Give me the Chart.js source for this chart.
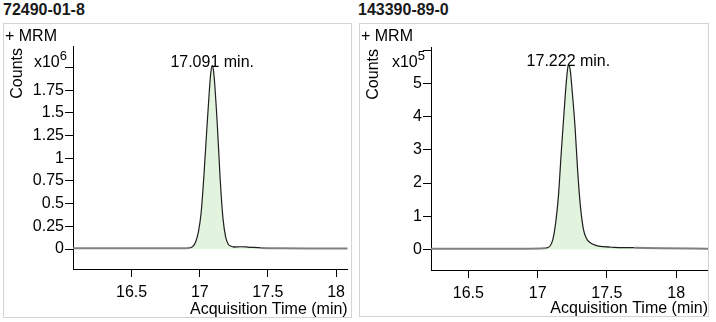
<!DOCTYPE html>
<html>
<head>
<meta charset="utf-8">
<script src="https://cdn.jsdelivr.net/npm/chart.js@4.4.0/dist/chart.umd.min.js"></script>
<style>
body { margin:0; background:#fff; font-family:"Liberation Sans", Arial, sans-serif; width:716px; height:322px; position:relative; overflow:hidden; }
.ttl { position:absolute; top:1px; font-weight:bold; font-size:16px; color:#1a1a1a; }
.box { position:absolute; top:23px; border:1px solid #d4d4d4; }
.mrm { position:absolute; left:1px; top:3px; font-size:16px; color:#000; }
canvas { position:absolute; left:0; top:0; }
</style>
</head>
<body>
<div class="ttl" style="left:3px">72490-01-8</div>
<div class="ttl" style="left:358px">143390-89-0</div>
<div class="box" style="left:3px;width:347px;height:293px">
  <canvas id="left-chart" width="347" height="293"></canvas>
  <div class="mrm">+ MRM</div>
</div>
<div class="box" style="left:359px;width:348px;height:292px">
  <canvas id="right-chart" width="348" height="292"></canvas>
  <div class="mrm">+ MRM</div>
</div>
<script>
// 72490-01-8  (counts x10^6)
var times1  = [16.07, 16.4, 16.7, 16.9, 16.93, 16.95, 16.97, 16.99, 17.01, 17.03, 17.05, 17.07, 17.08, 17.091, 17.10, 17.11, 17.13, 17.15, 17.17, 17.19, 17.21, 17.23, 17.25, 17.30, 17.35, 17.45, 17.6, 17.8, 18.085];
var counts1 = [0.008, 0.008, 0.008, 0.009, 0.015, 0.03, 0.08, 0.19, 0.40, 0.80, 1.28, 1.74, 1.93, 2.02, 1.97, 1.81, 1.33, 0.76, 0.34, 0.13, 0.05, 0.03, 0.022, 0.025, 0.022, 0.012, 0.008, 0.007, 0.007];
var base1t = [16.93, 17.26];
var base1c = [0.010, 0.022];
var yTicks1  = [0, 0.25, 0.5, 0.75, 1, 1.25, 1.5, 1.75, 2];
var yLabels1 = ['0', '0.25', '0.5', '0.75', '1', '1.25', '1.5', '1.75', ''];

// 143390-89-0  (counts x10^5)
var times2  = [16.23, 16.6, 16.9, 17.02, 17.06, 17.09, 17.11, 17.13, 17.15, 17.17, 17.19, 17.21, 17.222, 17.235, 17.25, 17.27, 17.29, 17.31, 17.33, 17.35, 17.38, 17.42, 17.47, 17.55, 17.7, 17.9, 18.23];
var counts2 = [0.02, 0.02, 0.02, 0.025, 0.04, 0.1, 0.3, 0.8, 1.6, 2.9, 4.1, 5.2, 5.57, 5.42, 4.75, 3.7, 2.3, 1.25, 0.62, 0.35, 0.2, 0.12, 0.08, 0.06, 0.05, 0.03, 0.02];
var base2t = [17.07, 17.52];
var base2c = [0.03, 0.065];
var yTicks2  = [0, 1, 2, 3, 4, 5, 6];
var yLabels2 = ['0', '1', '2', '3', '4', '5', ''];

var xTicks  = [16.5, 17, 17.5, 18];
var xLabels = ['16.5', '17', '17.5', '18'];

var FONT = '"Liberation Sans", Arial, sans-serif';
Chart.defaults.color = '#000';
Chart.defaults.font.family = FONT;

function pts(t, c) {
    return t.map(function(v, i) { return {x: v, y: c[i]}; });
}

var extras = {
    id: 'extras',
    afterDraw: function(chart, args, o) {
        var ctx = chart.ctx, xs = chart.scales.x, ys = chart.scales.y;
        ctx.save();
        ctx.fillStyle = '#000';
        // peak label
        ctx.font = '16px ' + FONT;
        ctx.textAlign = 'center';
        ctx.textBaseline = 'alphabetic';
        ctx.fillText(o.peakText, xs.getPixelForValue(o.peakTime), ys.getPixelForValue(o.peakCount) + 1);
        // multiplier x10^n
        var ax = chart.chartArea.left;
        ctx.textAlign = 'right';
        ctx.font = '13px ' + FONT;
        ctx.fillText(o.exp, ax - 6, 35.5);
        var w = ctx.measureText(o.exp).width;
        ctx.font = '16px ' + FONT;
        ctx.fillText('x10', ax - 6 - w, 43);
        // Counts
        ctx.translate(13.5, chart.chartArea.top + 2);
        ctx.rotate(-Math.PI / 2);
        ctx.textAlign = 'right';
        ctx.textBaseline = 'middle';
        ctx.fillText('Counts', 0, 0);
        ctx.restore();
    }
};

function makeChart(id, t, c, bt, bc, cfg) {
    var ctx = document.getElementById(id);
    return new Chart(ctx, {
        type: 'line',
        data: {
            datasets: [{
                data: pts(t, c),
                borderWidth: 1.3,
                borderColor: '#222',
                backgroundColor: '#e2f4de',
                fill: 'origin',
                pointRadius: 0,
                cubicInterpolationMode: 'monotone',
                segment: {
                    borderColor: function(s) { return (s.p0.parsed.y > cfg.thresh || s.p1.parsed.y > cfg.thresh) ? '#1e1e1e' : '#808080'; },
                    borderWidth: function(s) { return (s.p0.parsed.y > cfg.thresh || s.p1.parsed.y > cfg.thresh) ? 1.2 : 2; }
                }
            }, {
                data: pts(bt, bc),
                borderWidth: 1,
                borderColor: '#111',
                pointRadius: 0,
                fill: false
            }]
        },
        options: {
            responsive: false,
            animation: false,
            devicePixelRatio: 1,
            layout: { padding: { top: cfg.top, left: 0, right: 0, bottom: 0 } },
            plugins: {
                legend: { display: false },
                tooltip: { enabled: false },
                extras: { peakText: cfg.peakText, peakTime: cfg.peakTime, peakCount: cfg.peakCount, exp: cfg.exp }
            },
            scales: {
                x: {
                    type: 'linear',
                    min: cfg.xmin, max: cfg.xmax,
                    afterFit: function(s) { s.height = cfg.xh; },
                    afterBuildTicks: function(s) { s.ticks = xTicks.map(function(v) { return {value: v}; }); },
                    ticks: { font: { size: 16 }, padding: 6, maxRotation: 0, callback: function(v, i) { return xLabels[i]; } },
                    grid: { drawOnChartArea: false, color: '#000', tickLength: 8 },
                    border: { color: '#000', width: 1 },
                    title: { display: true, text: 'Acquisition Time (min)', align: 'end', font: { size: 16, lineHeight: 1 }, padding: { top: 0, bottom: -1 } }
                },
                y: {
                    type: 'linear',
                    min: cfg.ymin, max: cfg.ymax,
                    afterFit: function(s) { s.width = cfg.yw; },
                    afterBuildTicks: function(s) { s.ticks = cfg.yTicks.map(function(v) { return {value: v}; }); },
                    ticks: { font: { size: 16 }, padding: 1, callback: function(v, i) { return cfg.yLabels[i]; } },
                    grid: { drawOnChartArea: false, color: '#000', tickLength: 8 },
                    border: { color: '#000', width: 1 }
                }
            }
        },
        plugins: [extras]
    });
}

makeChart('left-chart', times1, counts1, base1t, base1c, {
    top: 22, yw: 69, xh: 48, xmin: 16.07, xmax: 18.085, ymin: -0.22, ymax: 2.236,
    yTicks: yTicks1, yLabels: yLabels1, thresh: 0.015, exp: '6',
    peakText: '17.091 min.', peakTime: 17.091, peakCount: 2.02
});
makeChart('right-chart', times2, counts2, base2t, base2c, {
    top: 23, yw: 71, xh: 46, xmin: 16.23, xmax: 18.23, ymin: -0.625, ymax: 6.11,
    yTicks: yTicks2, yLabels: yLabels2, thresh: 0.05, exp: '5',
    peakText: '17.222 min.', peakTime: 17.222, peakCount: 5.57
});
</script>
</body>
</html>
